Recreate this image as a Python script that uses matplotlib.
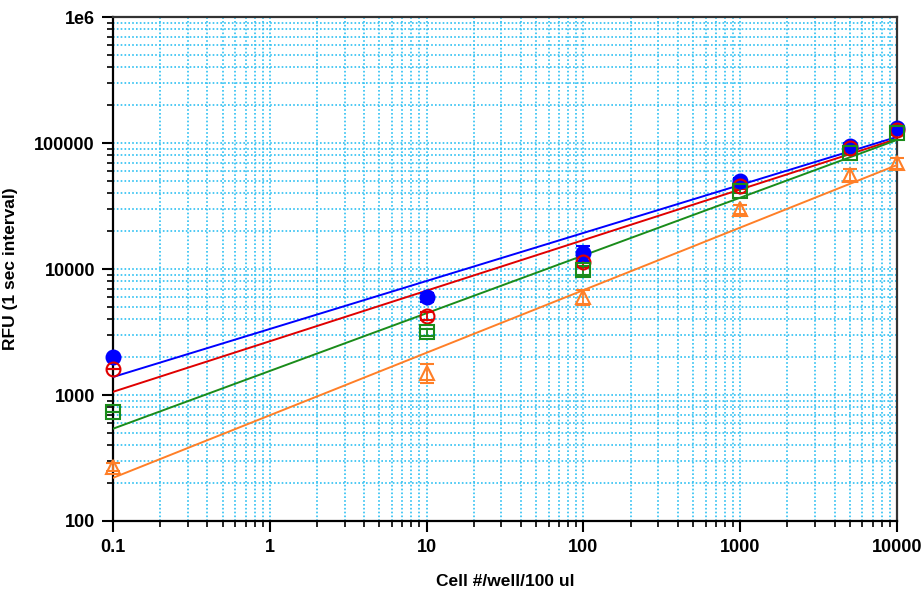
import numpy as np
import matplotlib.pyplot as plt

# cell numbers per well
cells = [0.1, 10, 100, 1000, 5000, 10000]

rfu_blue = [2000, 6000, 13400, 50000, 95000, 131000]
rfu_red = [1600, 4240, 11400, 46000, 91000, 127000]
rfu_green = [730, 3160, 9800, 42000, 84000, 120000]
rfu_orange = [270, 1500, 6000, 30000, 56000, 69000]

err_blue = [0, 500, 1800, 3000, 5000, 6000]
err_red = [0, 300, 1000, 2500, 4000, 5000]
err_green = [0, 200, 800, 2000, 4000, 5000]
err_orange = [20, 250, 800, 2500, 6000, 7000]

# fitted lines, values at x = 0.1 and x = 10000
fit_x = [0.1, 10000]
fit_blue = [1390, 112000]
fit_red = [1060, 108000]
fit_green = [540, 106000]
fit_orange = [220, 67000]

plt.rcParams['font.family'] = ['Liberation Sans', 'DejaVu Sans']
plt.rcParams['font.weight'] = 'bold'

fig = plt.figure(figsize=(9.22, 5.9), dpi=100)
ax = fig.add_axes([0.1226, 0.117, 0.8504, 0.854])

series = [
    (rfu_blue, err_blue, fit_blue, '#0000FF', 'o', '#0000FF'),
    (rfu_red, err_red, fit_red, '#E00000', 'o', 'none'),
    (rfu_green, err_green, fit_green, '#1A8C1A', 's', 'none'),
    (rfu_orange, err_orange, fit_orange, '#FF7F27', '^', 'none'),
]

for vals, errs, fit, col, mk, face in series:
    ax.plot(fit_x, fit, color=col, lw=1.4, zorder=3)
    ax.errorbar(cells, vals, yerr=errs, fmt=mk, color=col, mfc=face, mec=col,
                ms=10, mew=1.5, elinewidth=1.3, capsize=5, capthick=1.3,
                zorder=4, clip_on=False)

ax.set_xscale('log')
ax.set_yscale('log')
ax.set_xlim(0.1, 10000)
ax.set_ylim(100, 1e6)

ax.set_xticks([0.1, 1, 10, 100, 1000, 10000])
ax.set_xticklabels(['0.1', '1', '10', '100', '1000', '10000'])
ax.set_yticks([100, 1000, 10000, 100000, 1e6])
ax.set_yticklabels(['100', '1000', '10000', '100000', '1e6'])

ax.grid(True, which='both', color='#2EC0F2', ls=(0, (1, 1.3)), lw=1.2)
ax.set_axisbelow(True)

ax.tick_params(which='major', length=8, width=1.5, labelsize=13, pad=5)
ax.tick_params(which='minor', length=4, width=1.2)
for sp in ax.spines.values():
    sp.set_linewidth(1.6)
ax.spines['top'].set_color('#333333')
ax.spines['right'].set_color('#333333')

ax.set_xlabel('Cell #/well/100 ul', fontsize=12.5, fontweight='bold', labelpad=13)
ax.set_ylabel('RFU (1 sec interval)', fontsize=12.5, fontweight='bold', labelpad=12)

fig.savefig('out.png', dpi=100)
